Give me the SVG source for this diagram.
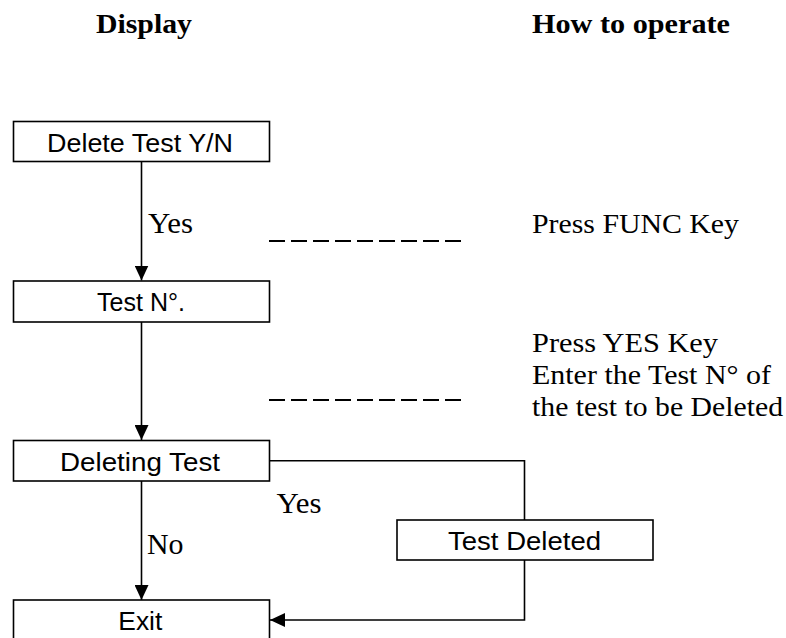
<svg xmlns="http://www.w3.org/2000/svg" width="786" height="638" viewBox="0 0 786 638">
<style>
.box{fill:#fff;stroke:#000;stroke-width:1.6}
.bt{font-family:"Liberation Sans",Arial,sans-serif;font-size:25px;fill:#000;text-anchor:middle}
.hd{font-family:"Liberation Serif","Times New Roman",serif;font-size:28px;font-weight:bold;fill:#000}
.tx{font-family:"Liberation Serif","Times New Roman",serif;font-size:26.5px;fill:#000}
.lb{font-family:"Liberation Serif","Times New Roman",serif;font-size:28.5px;fill:#000}
.cn{fill:none;stroke:#000;stroke-width:1.6}
.dash{fill:none;stroke:#000;stroke-width:2.2;stroke-dasharray:16 6}
</style>
<defs>
<marker id="ah" viewBox="0 0 15 14" refX="15" refY="7" markerWidth="15" markerHeight="14" markerUnits="userSpaceOnUse" orient="auto">
<path d="M0,0 L15,7 L0,14 z" fill="#000"/>
</marker>
</defs>
<rect width="786" height="638" fill="#fff"/>
<g id="headers">
<text class="hd" x="96" y="33" textLength="96" lengthAdjust="spacingAndGlyphs">Display</text>
<text class="hd" x="532" y="33" textLength="198" lengthAdjust="spacingAndGlyphs">How to operate</text>
</g>
<g id="connectors">
<line class="cn" x1="141.5" y1="161.5" x2="141.5" y2="280.5" marker-end="url(#ah)"/>
<line class="cn" x1="141.5" y1="322" x2="141.5" y2="440" marker-end="url(#ah)"/>
<line class="cn" x1="141.5" y1="481" x2="141.5" y2="600" marker-end="url(#ah)"/>
<polyline class="cn" points="269.5,460.7 524.5,460.7 524.5,520"/>
<polyline class="cn" points="524.5,560 524.5,620 270,620" marker-end="url(#ah)"/>
<line class="dash" x1="269" y1="241" x2="461" y2="241"/>
<line class="dash" x1="269" y1="400" x2="461" y2="400"/>
</g>
<g id="labels">
<text class="lb" x="148" y="233" textLength="45" lengthAdjust="spacingAndGlyphs">Yes</text>
<text class="lb" x="276.5" y="512.5" textLength="45" lengthAdjust="spacingAndGlyphs">Yes</text>
<text class="lb" x="147" y="553.5" textLength="36.5" lengthAdjust="spacingAndGlyphs">No</text>
</g>
<g id="node-delete-test">
<rect class="box" x="13.5" y="121.5" width="256" height="40"/>
<text class="bt" x="140" y="151.5" textLength="186" lengthAdjust="spacingAndGlyphs">Delete Test Y/N</text>
</g>
<g id="node-test-no">
<rect class="box" x="13.5" y="281" width="256" height="41"/>
<text class="bt" x="141" y="310.5" textLength="88" lengthAdjust="spacingAndGlyphs">Test N°.</text>
</g>
<g id="node-deleting-test">
<rect class="box" x="13.5" y="440.5" width="256" height="40.5"/>
<text class="bt" x="140" y="470.5" textLength="160" lengthAdjust="spacingAndGlyphs">Deleting Test</text>
</g>
<g id="node-test-deleted">
<rect class="box" x="397" y="520" width="256" height="40"/>
<text class="bt" x="524.5" y="550" textLength="153" lengthAdjust="spacingAndGlyphs">Test Deleted</text>
</g>
<g id="node-exit">
<rect class="box" x="13.5" y="600" width="256" height="40"/>
<text class="bt" x="140.3" y="630" textLength="44" lengthAdjust="spacingAndGlyphs">Exit</text>
</g>
<g id="instructions">
<text class="tx" x="532" y="232.5" textLength="207" lengthAdjust="spacingAndGlyphs">Press FUNC Key</text>
<text class="tx" x="532" y="352" textLength="186" lengthAdjust="spacingAndGlyphs">Press YES Key</text>
<text class="tx" x="532" y="384" textLength="239" lengthAdjust="spacingAndGlyphs">Enter the Test N° of</text>
<text class="tx" x="532" y="416" textLength="251" lengthAdjust="spacingAndGlyphs">the test to be Deleted</text>
</g>
</svg>
